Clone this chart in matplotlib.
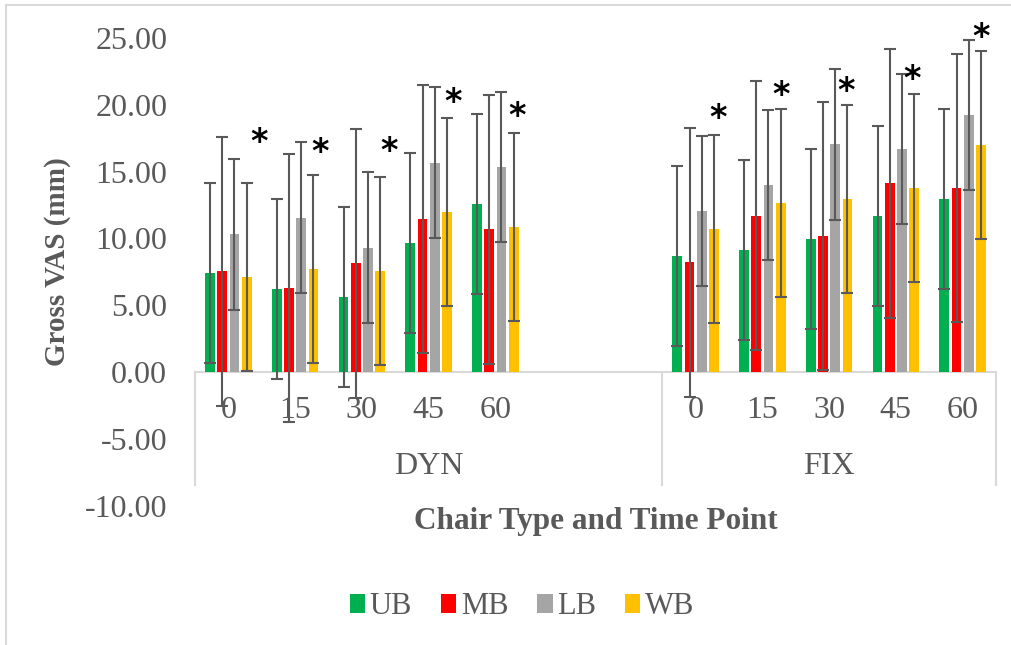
import matplotlib
matplotlib.use('Agg')
import matplotlib.pyplot as plt
import numpy as np

# 数据：两种椅子 × 5 个时间点，四个部位的均值与误差
chairs = ['DYN', 'FIX']
times = ['0', '15', '30', '45', '60']
series = ['UB', 'MB', 'LB', 'WB']
colors = ['#00B050', '#FF0000', '#A5A5A5', '#FFC000']

ub = [7.39, 6.24, 5.64, 9.68, 12.60, 8.71, 9.11, 9.96, 11.70, 12.97]
mb = [7.54, 6.29, 8.13, 11.45, 10.68, 8.21, 11.70, 10.18, 14.12, 13.77]
lb = [10.30, 11.55, 9.31, 15.67, 15.34, 12.05, 14.00, 17.04, 16.69, 19.24]
wb = [7.09, 7.69, 7.54, 12.00, 10.85, 10.68, 12.65, 12.95, 13.77, 16.99]
sd = [6.73, 10.05, 5.63, 7.03]

# 星号标记（显著性）的高度
star_y = [17.2, 16.4, 16.5, 20.2, 19.1, 19.0, 20.7, 21.0, 21.9, 25.0]
star_dx = [0.46, 0.38, 0.40, 0.36, 0.33, 0.33, 0.28, 0.25, 0.25, 0.28]

grey = '#595959'
plt.rcParams['font.family'] = ['Liberation Serif', 'DejaVu Serif']

fig = plt.figure(figsize=(10.12, 6.45), dpi=100)
ax = fig.add_axes([195 / 1012, 139.4 / 645, 801 / 1012, 467.6 / 645])

# DYN 组占 7 个位置（后两个空），FIX 组占 5 个
slots = [0, 1, 2, 3, 4, 7, 8, 9, 10, 11]
x = np.array(slots, dtype=float)
step = 0.183
width = 0.145

for i, vals in enumerate([ub, mb, lb, wb]):
    xs = x + (i - 1.5) * step
    ax.bar(xs, vals, width=width, color=colors[i], label=series[i], zorder=2)
    ax.errorbar(xs, vals, yerr=sd[i], fmt='none', ecolor=grey,
                elinewidth=1.5, capsize=4.6, capthick=1.5, zorder=3)

for xi, yi, dx in zip(x, star_y, star_dx):
    ax.text(xi + dx, yi, '*', fontsize=24, fontweight='bold',
            family='DejaVu Sans', ha='center', va='center', color='black')

ax.set_xlim(-0.5, 11.5)
ax.set_ylim(-10, 25)
ax.set_yticks(np.arange(-10, 26, 5))
ax.set_yticklabels(['%.2f' % v for v in np.arange(-10, 26, 5)])
ax.tick_params(axis='y', length=0, pad=20, labelsize=23, labelcolor=grey)
ax.set_xticks([])
for s in ax.spines.values():
    s.set_visible(False)

# 分类轴及分组框线
line_c = '#D9D9D9'
ax.plot([-0.5, 11.5], [0, 0], color=line_c, lw=1.5, zorder=1, clip_on=False)
for xv in [-0.5, 6.5, 11.5]:
    ax.plot([xv, xv], [0, -8.45], color=line_c, lw=1.5, zorder=1, clip_on=False)

for xi, t in zip(x, times * 2):
    ax.text(xi, -2.85, t, fontsize=23, color=grey, ha='center', va='center')
ax.text(3, -7.1, chairs[0], fontsize=23, color=grey, ha='center', va='center')
ax.text(9, -7.1, chairs[1], fontsize=23, color=grey, ha='center', va='center')

fig.text(596 / 1012, 1 - 522 / 645, 'Chair Type and Time Point', fontsize=22.5,
         fontweight='bold', color=grey, ha='center', va='center')
fig.text(58 / 1012, 1 - 262 / 645, 'Gross VAS (mm)', fontsize=21,
         fontweight='bold', color=grey, ha='center', va='center', rotation=90)

fig.legend(loc='center', bbox_to_anchor=(522 / 1012, 1 - 607 / 645), ncol=4,
           frameon=False, fontsize=22, labelcolor=grey, handlelength=0.5,
           handleheight=0.55, handletextpad=0.15, columnspacing=0.95)

# 图表区边框（只可见左边和上边）
fig.add_artist(plt.Line2D([6 / 1012, 6 / 1012], [0, 1 - 5 / 645], color=line_c, lw=1.5))
fig.add_artist(plt.Line2D([6 / 1012, 1], [1 - 5 / 645, 1 - 5 / 645], color=line_c, lw=1.5))

fig.savefig('out.png', dpi=100)
